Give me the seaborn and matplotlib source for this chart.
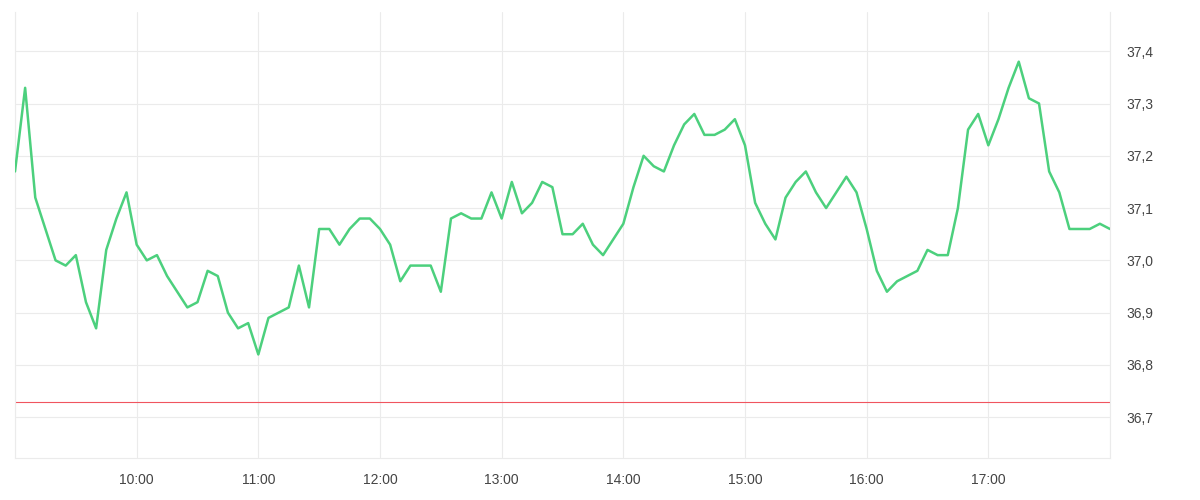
import numpy as np
import pandas as pd
import matplotlib
matplotlib.use("Agg")
import matplotlib.pyplot as plt
import matplotlib.dates as mdates
from matplotlib.ticker import FuncFormatter
import seaborn as sns

# readings every 5 minutes, 09:00 .. 18:00
start_time = "2024-01-01 09:00"
step = "5min"
values = [
    37.17, 37.33, 37.12, 37.06, 37.00, 36.99, 37.01, 36.92, 36.87, 37.02, 37.08, 37.13,  # 9h
    37.03, 37.00, 37.01, 36.97, 36.94, 36.91, 36.92, 36.98, 36.97, 36.90, 36.87, 36.88,  # 10h
    36.82, 36.89, 36.90, 36.91, 36.99, 36.91, 37.06, 37.06, 37.03, 37.06, 37.08, 37.08,  # 11h
    37.06, 37.03, 36.96, 36.99, 36.99, 36.99, 36.94, 37.08, 37.09, 37.08, 37.08, 37.13,  # 12h
    37.08, 37.15, 37.09, 37.11, 37.15, 37.14, 37.05, 37.05, 37.07, 37.03, 37.01, 37.04,  # 13h
    37.07, 37.14, 37.20, 37.18, 37.17, 37.22, 37.26, 37.28, 37.24, 37.24, 37.25, 37.27,  # 14h
    37.22, 37.11, 37.07, 37.04, 37.12, 37.15, 37.17, 37.13, 37.10, 37.13, 37.16, 37.13,  # 15h
    37.06, 36.98, 36.94, 36.96, 36.97, 36.98, 37.02, 37.01, 37.01, 37.10, 37.25, 37.28,  # 16h
    37.22, 37.27, 37.33, 37.38, 37.31, 37.30, 37.17, 37.13, 37.06, 37.06, 37.06, 37.07,  # 17h
    37.06,                                                                               # 18h
]
threshold = 36.73
y_ticks = [36.7, 36.8, 36.9, 37.0, 37.1, 37.2, 37.3, 37.4]

df = pd.DataFrame({
    "time": pd.date_range(start_time, periods=len(values), freq=step),
    "value": values,
})

sns.set_theme(style="white")
plt.rcParams["font.family"] = ["Liberation Sans", "DejaVu Sans"]

grid_color = "#ebebeb"
text_color = "#444444"

fig = plt.figure(figsize=(12, 5), dpi=100)
ax = fig.add_axes([15 / 1200, 42 / 500, 1095 / 1200, 446 / 500])

sns.lineplot(data=df, x="time", y="value", ax=ax, color="#4cd07d", linewidth=1.8, zorder=3)
ax.axhline(threshold, color="#f0555f", linewidth=0.8, zorder=2)

ax.set_xlim(df["time"].iloc[0], df["time"].iloc[-1])
ax.set_ylim(36.622, 37.475)

# x axis: hourly ticks, edge labels hidden
ax.xaxis.set_major_locator(mdates.HourLocator())
first, last = df["time"].iloc[0].hour, df["time"].iloc[-1].hour
ax.xaxis.set_major_formatter(FuncFormatter(
    lambda v, _: "" if mdates.num2date(v).hour in (first, last) else mdates.num2date(v).strftime("%H:%M")))

# y axis on the right with comma decimals
ax.yaxis.tick_right()
ax.set_yticks(y_ticks)
ax.yaxis.set_major_formatter(FuncFormatter(lambda v, _: f"{v:.1f}".replace(".", ",")))

ax.grid(True, color=grid_color, linewidth=0.8)
ax.set_axisbelow(True)
ax.spines["top"].set_visible(False)
for side in ["bottom", "left", "right"]:
    ax.spines[side].set_color(grid_color)
    ax.spines[side].set_linewidth(0.8)

ax.tick_params(axis="x", length=7, width=0.8, color=grid_color, pad=4, labelsize=10, labelcolor=text_color)
ax.tick_params(axis="y", length=0, pad=12, labelsize=10, labelcolor=text_color)
ax.set_xlabel("")
ax.set_ylabel("")

fig.savefig("out.png", dpi=100)
plt.close(fig)
